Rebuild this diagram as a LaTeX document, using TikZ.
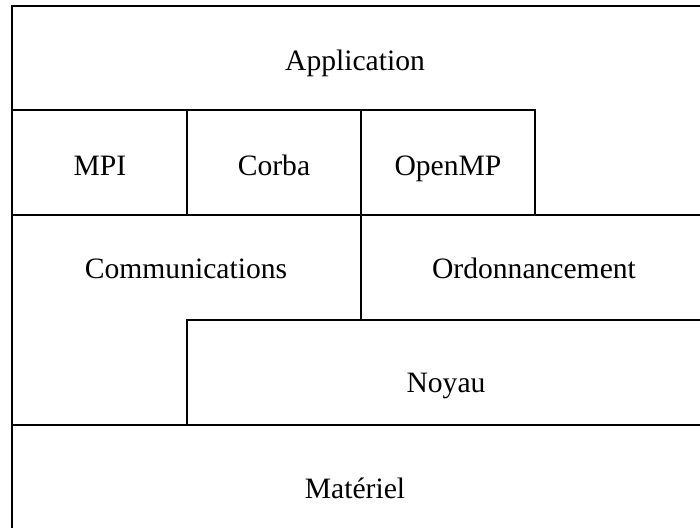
\documentclass[tikz,border=0pt]{standalone}
\usepackage{fontspec}
\setmainfont{Liberation Serif}
\begin{document}
\begin{tikzpicture}[x=0.5pt,y=-0.5pt,line width=1pt,
    every node/.style={anchor=base,font=\fontsize{14.8}{18}\selectfont}]
    \useasboundingbox (0,0) rectangle (700,528);
    % layers
    \draw (12,560) -- (12,6) -- (705,6);
    \draw (12,110) -- (535,110) -- (535,215);
    \draw (12,215) -- (705,215);
    \draw (187,110) -- (187,215);
    \draw (361,110) -- (361,320);
    \draw (187,425) -- (187,320) -- (705,320);
    \draw (12,425) -- (705,425);

    \node (app) at (355,71) {Application};
    \foreach \x/\t/\n in {100/MPI/mpi,274/Corba/corba,448/OpenMP/openmp}
        {\node (\n) at (\x,176) {\t};}
    \node (comm) at (186,279) {Communications};
    \node (ordo) at (534,279) {Ordonnancement};
    \node (noyau) at (446,393) {Noyau};
    \node (mat) at (355,498) {Matériel};
\end{tikzpicture}
\end{document}
